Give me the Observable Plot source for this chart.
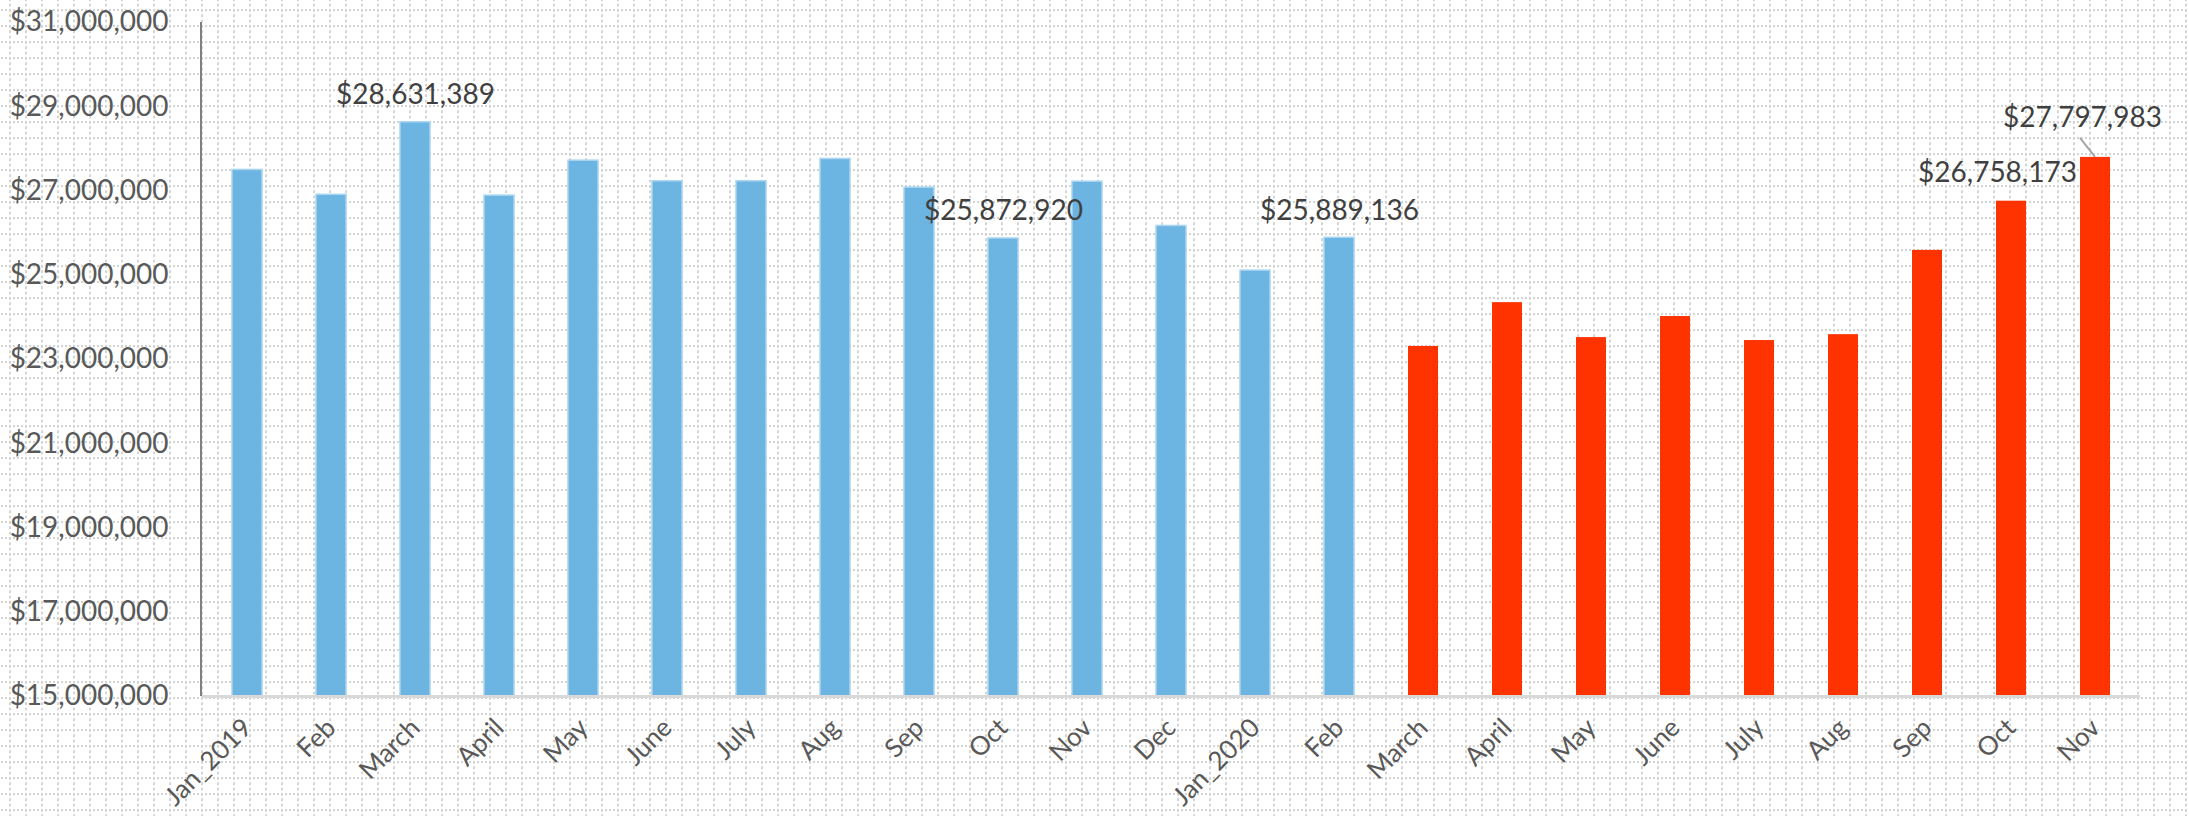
<!DOCTYPE html>
<html>
<head>
<meta charset="utf-8">
<script src="https://cdn.jsdelivr.net/npm/d3@7"></script>
<script src="https://cdn.jsdelivr.net/npm/@observablehq/plot@0.6"></script>
<style>
html, body { margin: 0; padding: 0; }
body {
  width: 2189px; height: 816px; overflow: hidden;
  background-color: #ffffff;
  background-image: url("data:image/svg+xml,%3Csvg xmlns='http://www.w3.org/2000/svg' width='16' height='16'%3E%3Cpath d='M0 1H16' stroke='%23d3d3d3' stroke-width='2' stroke-dasharray='2 2'/%3E%3Cpath d='M1 0V16' stroke='%23d3d3d3' stroke-width='2' stroke-dasharray='2.67 2.67'/%3E%3C/svg%3E");
  background-size: 16px 16px;
  background-position: 9px 9px;
}
#chart svg { display: block; }
</style>
</head>
<body>
<div id="chart"></div>
<script>
// ---- data ----
const months = ["Jan_2019","Feb","March","April","May","June","July","Aug","Sep","Oct","Nov","Dec",
                "Jan_2020","Feb","March","April","May","June","July","Aug","Sep","Oct","Nov"];
const revenue = [27500000, 26910000, 28631389, 26890000, 27720000, 27230000, 27230000, 27760000,
                 27080000, 25872920, 27220000, 26170000, 25110000, 25889136, 23310000, 24350000,
                 23520000, 24020000, 23450000, 23590000, 25590000, 26758173, 27797983];
const period = ["pre","pre","pre","pre","pre","pre","pre","pre","pre","pre","pre","pre","pre","pre",
                "post","post","post","post","post","post","post","post","post"];
const yTicks = [15000000, 17000000, 19000000, 21000000, 23000000, 25000000, 27000000, 29000000, 31000000];
const labelledCentered = [2, 9, 13];
const labelledLeft = [21];
const labelledLeader = [22];

const rows = months.map((m, i) => ({i, month: m, value: revenue[i], period: period[i]}));
const money = v => "$" + d3.format(",")(Math.round(v));

const chart = Plot.plot({
  width: 2189,
  height: 816,
  marginLeft: 201,
  marginRight: 49,
  marginTop: 22,
  marginBottom: 120,
  style: {background: "transparent", fontFamily: "Lato, 'Open Sans', sans-serif", fontSize: "26px", color: "#595959"},
  x: {type: "band", domain: d3.range(months.length), paddingInner: 0.644, paddingOuter: 0.322, label: null},
  y: {domain: [15000000, 31000000], label: null},
  color: {domain: ["pre", "post"], range: ["#6cb5e2", "#ff3300"]},
  marks: [
    Plot.barY(rows, {x: "i", y1: 15000000, y2: "value", fill: "period",
      stroke: d => d.period === "pre" ? "#a9d5f1" : "none", strokeWidth: 1.5}),
    Plot.ruleY([15000000], {stroke: "#d9d9d9", strokeWidth: 3}),
    Plot.axisY({ticks: yTicks, tickSize: 0, tickPadding: 33, tickFormat: money, fill: "#595959",
      fontSize: 28, label: null}),
    Plot.axisX({tickSize: 0, tickPadding: 27, tickRotate: -45, tickFormat: i => months[i], fill: "#595959",
      fontSize: 26, label: null}),
    Plot.text(rows.filter(d => labelledCentered.includes(d.i)), {x: "i", y: "value", text: d => money(d.value),
      lineAnchor: "middle", textAnchor: "middle", dy: -27, fill: "#404040", fontSize: 28}),
    Plot.text(rows.filter(d => labelledLeft.includes(d.i)), {x: "i", y: "value", text: d => money(d.value),
      lineAnchor: "middle", textAnchor: "middle", dx: -14, dy: -28, fill: "#404040", fontSize: 28}),
    Plot.text(rows.filter(d => labelledLeader.includes(d.i)), {x: "i", y: "value", text: d => money(d.value),
      lineAnchor: "middle", textAnchor: "middle", dx: -13, dy: -39, fill: "#404040", fontSize: 28})
  ]
});

document.getElementById("chart").appendChild(chart);

// axis line and leader line, positioned through Plot's own scales
const sx = chart.scale("x"), sy = chart.scale("y");
const svg = d3.select(chart);
const x0 = sx.range[0];
svg.append("line")
  .attr("x1", x0).attr("x2", x0)
  .attr("y1", sy.apply(31000000)).attr("y2", sy.apply(15000000))
  .attr("stroke", "#808080").attr("stroke-width", 2);
labelledLeader.forEach(i => {
  const cx = sx.apply(i) + sx.bandwidth / 2;
  const cy = sy.apply(revenue[i]);
  svg.append("line")
    .attr("x1", cx - 15).attr("y1", cy - 19)
    .attr("x2", cx).attr("y2", cy)
    .attr("stroke", "#a6a6a6").attr("stroke-width", 2);
});
</script>
</body>
</html>
